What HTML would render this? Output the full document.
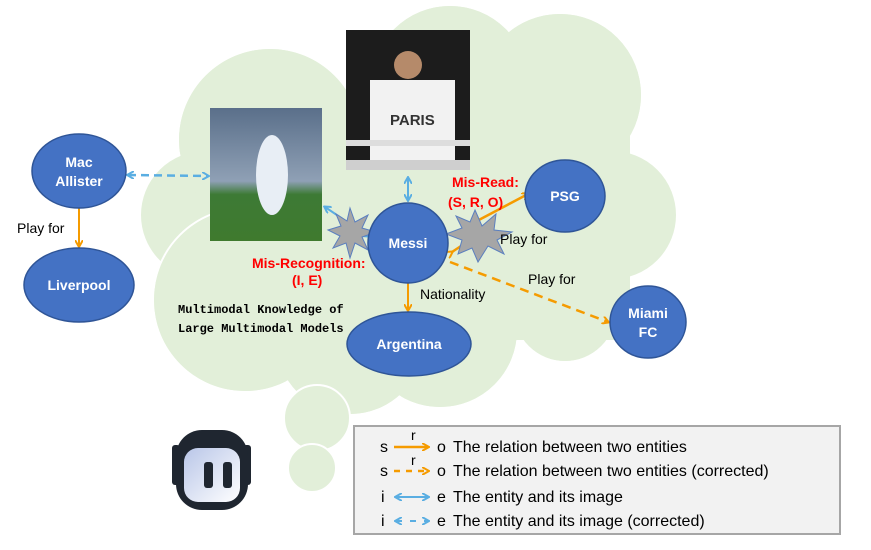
<!DOCTYPE html>
<html><head><meta charset="utf-8"><style>
html,body{margin:0;padding:0;background:#fff;}
svg{display:block;font-family:"Liberation Sans",sans-serif;}
</style></head><body>
<svg width="871" height="550" viewBox="0 0 871 550" xmlns="http://www.w3.org/2000/svg">
<defs>
<marker id="ao" markerWidth="8" markerHeight="8" refX="6" refY="4" orient="auto" markerUnits="userSpaceOnUse"><path d="M0,0 L7,4 L0,8" fill="none" stroke="#f59b00" stroke-width="2"/></marker>
<marker id="ab" markerWidth="8" markerHeight="8" refX="6" refY="4" orient="auto-start-reverse" markerUnits="userSpaceOnUse"><path d="M0,0 L7,4 L0,8" fill="none" stroke="#5aaee2" stroke-width="2"/></marker>
<linearGradient id="rg" x1="0" y1="0" x2="1" y2="1"><stop offset="0" stop-color="#b9c6e8"/><stop offset="1" stop-color="#ffffff"/></linearGradient>
<linearGradient id="p1" x1="0" y1="0" x2="0" y2="1"><stop offset="0" stop-color="#5a6f8a"/><stop offset="0.55" stop-color="#8fa0b5"/><stop offset="0.65" stop-color="#3d7a35"/><stop offset="1" stop-color="#3f7a2e"/></linearGradient>
</defs>
<!-- cloud -->
<g fill="#e2efd9" stroke="#fff" stroke-width="2">
<circle cx="270" cy="140" r="92"/>
<circle cx="450" cy="85" r="80"/>
<circle cx="560" cy="95" r="82"/>
<circle cx="612" cy="215" r="65"/>
<circle cx="565" cy="310" r="52"/>
<circle cx="205" cy="215" r="65"/>
<circle cx="245" cy="300" r="92"/>
<circle cx="440" cy="330" r="78"/>
<circle cx="350" cy="340" r="75"/>
</g>
<g fill="#e2efd9">
<circle cx="270" cy="140" r="91"/>
<circle cx="450" cy="85" r="79"/>
<circle cx="560" cy="95" r="81"/>
<circle cx="565" cy="310" r="51"/>
<circle cx="245" cy="300" r="91"/>
<circle cx="440" cy="330" r="77"/>
<circle cx="350" cy="340" r="74"/>
<rect x="230" y="110" width="400" height="230"/>
</g>
<circle cx="317" cy="418" r="33" fill="#e2efd9" stroke="#fff" stroke-width="2"/>
<circle cx="312" cy="468" r="24" fill="#e2efd9" stroke="#fff" stroke-width="2"/>
<!-- photos -->
<rect x="210" y="108" width="112" height="133" fill="url(#p1)"/>
<ellipse cx="272" cy="175" rx="16" ry="40" fill="#e8eef5"/>
<rect x="346" y="30" width="124" height="140" fill="#1c1c1c"/>
<rect x="370" y="80" width="85" height="80" fill="#f2f2f2"/>
<circle cx="408" cy="65" r="14" fill="#b58a6a"/>
<rect x="346" y="140" width="124" height="6" fill="#ddd"/>
<rect x="346" y="160" width="124" height="10" fill="#cfcfcf"/>
<text x="390" y="125" font-size="15" font-weight="bold" fill="#333">PARIS</text>
<!-- connectors -->
<line x1="79" y1="208" x2="79" y2="246" stroke="#f59b00" stroke-width="2" marker-end="url(#ao)"/>
<line x1="128" y1="175" x2="208" y2="176" stroke="#5aaee2" stroke-width="2.5" stroke-dasharray="8,5" marker-start="url(#ab)" marker-end="url(#ab)"/>
<line x1="408" y1="178" x2="408" y2="200" stroke="#5aaee2" stroke-width="2" marker-start="url(#ab)" marker-end="url(#ab)"/>
<line x1="325" y1="207" x2="368" y2="236" stroke="#5aaee2" stroke-width="2" marker-start="url(#ab)" marker-end="url(#ab)"/>
<line x1="408" y1="283" x2="408" y2="310" stroke="#f59b00" stroke-width="2" marker-end="url(#ao)"/>
<line x1="475" y1="222" x2="528" y2="194" stroke="#f59b00" stroke-width="2.5" marker-end="url(#ao)"/>
<line x1="452" y1="252" x2="470" y2="240" stroke="#f59b00" stroke-width="2.5" marker-start="url(#ao)"/>
<line x1="450" y1="262" x2="608" y2="322" stroke="#f59b00" stroke-width="2.5" stroke-dasharray="9,6" marker-end="url(#ao)"/>
<!-- stars -->
<polygon points="350,208 355,222 368,215 362,228 376,232 362,237 368,250 355,243 350,258 346,243 333,248 340,236 328,230 341,226 336,214 347,221" fill="#a6a6a6" stroke="#5b7fbf" stroke-width="1"/>
<polygon points="475,210 482,226 496,214 494,230 512,232 497,240 504,254 488,246 478,262 472,248 458,254 462,240 446,234 462,228 456,216 470,222" fill="#a6a6a6" stroke="#5b7fbf" stroke-width="1"/>
<!-- nodes -->
<g fill="#4472c4" stroke="#2f5597" stroke-width="1.5">
<ellipse cx="79" cy="171" rx="47" ry="37"/>
<ellipse cx="79" cy="285" rx="55" ry="37"/>
<ellipse cx="408" cy="243" rx="40" ry="40"/>
<ellipse cx="565" cy="196" rx="40" ry="36"/>
<ellipse cx="648" cy="322" rx="38" ry="36"/>
<ellipse cx="409" cy="344" rx="62" ry="32"/>
</g>
<g fill="#fff" font-size="14" font-weight="bold" text-anchor="middle">
<text x="79" y="167">Mac</text><text x="79" y="186">Allister</text>
<text x="79" y="290">Liverpool</text>
<text x="408" y="248">Messi</text>
<text x="565" y="201">PSG</text>
<text x="648" y="318">Miami</text><text x="648" y="337">FC</text>
<text x="409" y="349">Argentina</text>
</g>
<g font-size="14" fill="#000">
<text x="17" y="233">Play for</text>
<text x="500" y="244">Play for</text>
<text x="528" y="284">Play for</text>
<text x="420" y="299">Nationality</text>
</g>
<g font-size="14" font-weight="bold" fill="#ff0000">
<text x="452" y="187">Mis-Read:</text>
<text x="448" y="207">(S, R, O)</text>
<text x="252" y="268">Mis-Recognition:</text>
<text x="292" y="285">(I, E)</text>
</g>
<g font-family="Liberation Mono,monospace" font-size="12" font-weight="bold" fill="#000">
<text x="178" y="313">Multimodal Knowledge of</text>
<text x="178" y="332">Large Multimodal Models</text>
</g>
<!-- robot -->
<rect x="172" y="445" width="8" height="40" rx="3" fill="#1f2630"/>
<rect x="243" y="445" width="8" height="40" rx="3" fill="#1f2630"/>
<rect x="176" y="430" width="72" height="80" rx="26" fill="#1f2630"/>
<rect x="184" y="448" width="56" height="54" rx="14" fill="url(#rg)"/>
<rect x="204" y="462" width="9" height="26" rx="3" fill="#1f2630"/>
<rect x="223" y="462" width="9" height="26" rx="3" fill="#1f2630"/>
<!-- legend -->
<rect x="354" y="426" width="486" height="108" fill="#f2f2f2" stroke="#a6a6a6" stroke-width="2"/>
<g font-size="16" fill="#000">
<text x="380" y="452">s</text><text x="437" y="452">o</text><text x="453" y="452">The relation between two entities</text>
<text x="380" y="476">s</text><text x="437" y="476">o</text><text x="453" y="476">The relation between two entities (corrected)</text>
<text x="381" y="502">i</text><text x="437" y="502">e</text><text x="453" y="502">The entity and its image</text>
<text x="381" y="526">i</text><text x="437" y="526">e</text><text x="453" y="526">The entity and its image (corrected)</text>
<text x="411" y="440" font-size="14">r</text>
<text x="411" y="465" font-size="14">r</text>
</g>
<line x1="394" y1="447" x2="428" y2="447" stroke="#f59b00" stroke-width="2.5" marker-end="url(#ao)"/>
<line x1="394" y1="471" x2="428" y2="471" stroke="#f59b00" stroke-width="2.5" stroke-dasharray="6,6" marker-end="url(#ao)"/>
<line x1="396" y1="497" x2="428" y2="497" stroke="#5aaee2" stroke-width="2" marker-start="url(#ab)" marker-end="url(#ab)"/>
<line x1="396" y1="521" x2="428" y2="521" stroke="#5aaee2" stroke-width="2" stroke-dasharray="6,8" marker-start="url(#ab)" marker-end="url(#ab)"/>
</svg>
</body></html>
